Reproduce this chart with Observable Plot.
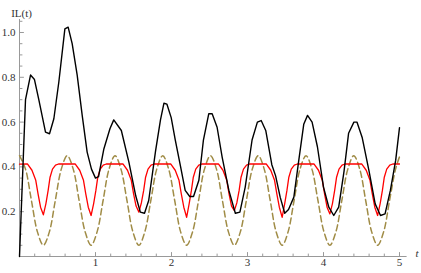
<!DOCTYPE html>
<html>
<head>
<meta charset="utf-8">
<script src="https://cdn.jsdelivr.net/npm/d3@7"></script>
<script src="https://cdn.jsdelivr.net/npm/@observablehq/plot@0.6"></script>
<style>
  html, body { margin: 0; padding: 0; background: #fff; }
  #chart svg { display: block; }
  #chart svg text { font-family: "Liberation Serif", "DejaVu Serif", serif !important; }
</style>
</head>
<body>
<div id="chart"></div>
<script>
const xMajor = [1, 2, 3, 4, 5];
const xMinor = [0.2, 0.4, 0.6, 0.8, 1.2, 1.4, 1.6, 1.8, 2.2, 2.4, 2.6, 2.8, 3.2, 3.4, 3.6, 3.8, 4.2, 4.4, 4.6, 4.8];
const yMajor = [0.2, 0.4, 0.6, 0.8, 1.0];
const yMinor = [0.05, 0.1, 0.15, 0.25, 0.3, 0.35, 0.45, 0.5, 0.55, 0.65, 0.7, 0.75, 0.85, 0.9, 0.95, 1.05];

const blackT = [0, 0.079, 0.145, 0.197, 0.254, 0.342, 0.395, 0.452, 0.518, 0.597, 0.64, 0.693, 0.759, 0.825, 0.89, 0.947, 1.0, 1.04, 1.11, 1.19, 1.24, 1.34, 1.44, 1.53, 1.59, 1.645, 1.70, 1.79, 1.855, 1.90, 1.94, 1.996, 2.05, 2.12, 2.18, 2.24, 2.29, 2.36, 2.42, 2.49, 2.535, 2.60, 2.667, 2.755, 2.84, 2.90, 2.97, 3.06, 3.13, 3.18, 3.24, 3.32, 3.37, 3.43, 3.49, 3.54, 3.61, 3.675, 3.74, 3.79, 3.85, 3.92, 4.00, 4.07, 4.135, 4.20, 4.27, 4.33, 4.40, 4.44, 4.51, 4.60, 4.68, 4.75, 4.81, 4.88, 4.95, 5.0];
const blackV = [0, 0.70, 0.81, 0.79, 0.70, 0.555, 0.548, 0.615, 0.78, 1.016, 1.024, 0.95, 0.81, 0.63, 0.466, 0.39, 0.35, 0.357, 0.48, 0.57, 0.61, 0.5625, 0.42, 0.27, 0.198, 0.193, 0.25, 0.47, 0.61, 0.684, 0.68, 0.62, 0.52, 0.40, 0.295, 0.268, 0.268, 0.34, 0.52, 0.637, 0.637, 0.577, 0.443, 0.295, 0.193, 0.198, 0.31, 0.52, 0.60, 0.607, 0.5625, 0.41, 0.36, 0.265, 0.193, 0.21, 0.265, 0.43, 0.59, 0.63, 0.60, 0.49, 0.31, 0.22, 0.183, 0.22, 0.38, 0.55, 0.60, 0.60, 0.53, 0.38, 0.235, 0.183, 0.19, 0.295, 0.43, 0.575];

const redT = [0,
  0.104, 0.164, 0.214, 0.244, 0.277, 0.314, 0.347, 0.377, 0.402, 0.434, 0.474, 0.514,
  0.732, 0.792, 0.842, 0.872, 0.905, 0.942, 0.975, 1.005, 1.03, 1.062, 1.102, 1.142,
  1.361, 1.421, 1.471, 1.501, 1.534, 1.571, 1.604, 1.634, 1.659, 1.691, 1.731, 1.771,
  1.989, 2.049, 2.099, 2.129, 2.162, 2.199, 2.232, 2.262, 2.287, 2.319, 2.359, 2.399,
  2.617, 2.677, 2.727, 2.757, 2.79, 2.827, 2.86, 2.89, 2.915, 2.947, 2.987, 3.027,
  3.246, 3.306, 3.356, 3.386, 3.419, 3.456, 3.489, 3.519, 3.544, 3.576, 3.616, 3.656,
  3.874, 3.934, 3.984, 4.014, 4.047, 4.084, 4.117, 4.147, 4.172, 4.204, 4.244, 4.284,
  4.502, 4.562, 4.612, 4.642, 4.675, 4.712, 4.745, 4.775, 4.8, 4.832, 4.872, 4.912,
  5.0];
const redV = [0.412,
  0.413, 0.385, 0.34, 0.28, 0.22, 0.186, 0.235, 0.295, 0.354, 0.39, 0.408, 0.413,
  0.413, 0.385, 0.34, 0.28, 0.22, 0.183, 0.235, 0.295, 0.354, 0.39, 0.408, 0.413,
  0.413, 0.385, 0.34, 0.28, 0.225, 0.198, 0.24, 0.295, 0.354, 0.39, 0.408, 0.413,
  0.413, 0.385, 0.34, 0.28, 0.22, 0.175, 0.235, 0.295, 0.354, 0.39, 0.408, 0.413,
  0.413, 0.385, 0.34, 0.28, 0.225, 0.205, 0.24, 0.295, 0.354, 0.39, 0.408, 0.413,
  0.413, 0.385, 0.34, 0.28, 0.22, 0.175, 0.235, 0.295, 0.354, 0.39, 0.408, 0.413,
  0.413, 0.385, 0.34, 0.28, 0.22, 0.19, 0.235, 0.295, 0.354, 0.39, 0.408, 0.413,
  0.413, 0.385, 0.34, 0.28, 0.22, 0.183, 0.235, 0.295, 0.354, 0.39, 0.408, 0.413,
  0.413];

const dashT = [0, 0.079, 0.157, 0.236, 0.314, 0.393, 0.471, 0.55, 0.628, 0.707, 0.785, 0.864, 0.942, 1.021, 1.1, 1.178, 1.257, 1.335, 1.414, 1.492, 1.571, 1.649, 1.728, 1.806, 1.885, 1.963, 2.042, 2.12, 2.199, 2.277, 2.356, 2.434, 2.513, 2.592, 2.67, 2.749, 2.827, 2.906, 2.985, 3.063, 3.142, 3.22, 3.299, 3.377, 3.456, 3.534, 3.613, 3.691, 3.77, 3.848, 3.927, 4.006, 4.084, 4.163, 4.241, 4.32, 4.398, 4.477, 4.555, 4.634, 4.712, 4.791, 4.869, 4.948, 5.0];
const dashV = [0.45, 0.39, 0.25, 0.11, 0.05, 0.11, 0.25, 0.39,
  0.45, 0.39, 0.25, 0.11, 0.05, 0.11, 0.25, 0.39,
  0.45, 0.39, 0.25, 0.11, 0.05, 0.11, 0.25, 0.39,
  0.45, 0.39, 0.25, 0.11, 0.05, 0.11, 0.25, 0.39,
  0.45, 0.39, 0.25, 0.11, 0.05, 0.11, 0.25, 0.39,
  0.45, 0.39, 0.25, 0.11, 0.05, 0.11, 0.25, 0.39,
  0.45, 0.39, 0.25, 0.11, 0.05, 0.11, 0.25, 0.39,
  0.45, 0.39, 0.25, 0.11, 0.05, 0.11, 0.25, 0.39,
  0.445];

const black = blackT.map((t, i) => ({t, v: blackV[i]}));
const red = redT.map((t, i) => ({t, v: redV[i]}));
const dash = dashT.map((t, i) => ({t, v: dashV[i]}));

const axisColor = "#999";
const font = "Liberation Serif";

const tickUp = len => ({draw(ctx) { ctx.moveTo(0, 0); ctx.lineTo(0, -len); }});
const tickRight = len => ({draw(ctx) { ctx.moveTo(0, 0); ctx.lineTo(len, 0); }});

const chart = Plot.plot({
  width: 421,
  height: 273,
  marginLeft: 19,
  marginRight: 14.4,
  marginTop: 19,
  marginBottom: 17,
  style: {fontFamily: font, fontSize: "11px", background: "#fff", overflow: "visible"},
  x: {domain: [0, 5.1], axis: null},
  y: {domain: [0, 1.058], axis: null},
  marks: [
    Plot.ruleY([0], {stroke: axisColor, strokeWidth: 1}),
    Plot.ruleX([0], {stroke: axisColor, strokeWidth: 1}),
    Plot.vector(xMajor, {x: d => d, y: () => 0, length: 4, rotate: 0, anchor: "start", shape: tickUp(4), stroke: axisColor, strokeWidth: 1}),
    Plot.vector(xMinor, {x: d => d, y: () => 0, length: 2.5, rotate: 0, anchor: "start", shape: tickUp(2.5), stroke: axisColor, strokeWidth: 1}),
    Plot.vector(yMajor, {x: () => 0, y: d => d, length: 4, rotate: 0, anchor: "start", shape: tickRight(4), stroke: axisColor, strokeWidth: 1}),
    Plot.vector(yMinor, {x: () => 0, y: d => d, length: 2.5, rotate: 0, anchor: "start", shape: tickRight(2.5), stroke: axisColor, strokeWidth: 1}),
    Plot.text(xMajor, {x: d => d, frameAnchor: "bottom", dy: 9, text: d => String(d), fill: "#333", fontSize: 11, fontFamily: font}),
    Plot.text(yMajor, {y: d => d, frameAnchor: "left", dx: -4, textAnchor: "end", text: d => d.toFixed(1), fill: "#333", fontSize: 11, fontFamily: font}),
    Plot.line(dash, {x: "t", y: "v", stroke: "#a08c46", strokeWidth: 1.5, strokeDasharray: "6,3.5", curve: "catmull-rom"}),
    Plot.line(red, {x: "t", y: "v", stroke: "#ff0000", strokeWidth: 1.3}),
    Plot.line(black, {x: "t", y: "v", stroke: "#000", strokeWidth: 1.4}),
    Plot.text(["IL(t)"], {frameAnchor: "top-left", dx: 2, dy: -10, text: d => d, textAnchor: "middle", fill: "#333", fontSize: 11, fontFamily: font}),
    Plot.text(["t"], {frameAnchor: "bottom-right", dx: 10, dy: 0, text: d => d, textAnchor: "middle", fill: "#333", fontSize: 11, fontFamily: font, fontStyle: "italic"})
  ]
});

document.getElementById("chart").appendChild(chart);
</script>
</body>
</html>
